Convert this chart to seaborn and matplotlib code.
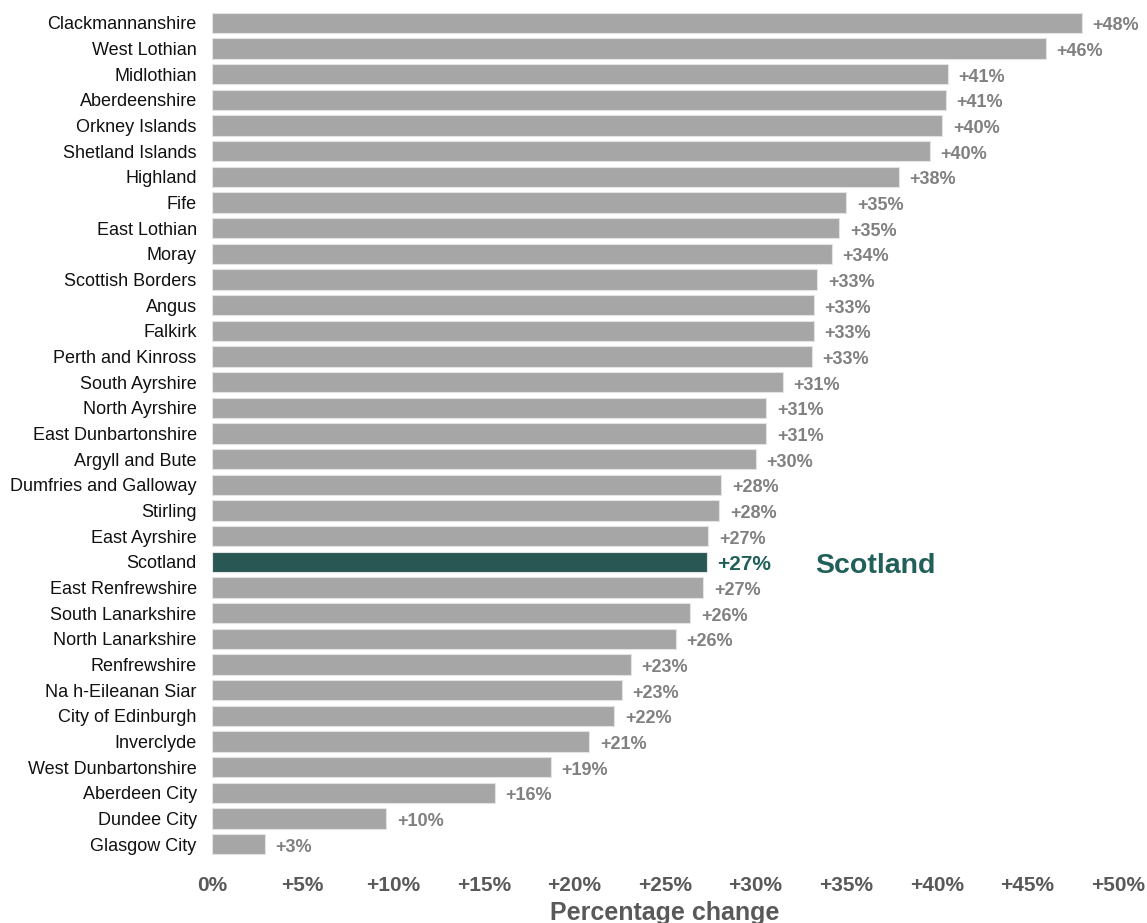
import matplotlib
matplotlib.use("Agg")
import matplotlib.pyplot as plt
import seaborn as sns
import pandas as pd

areas = ["Clackmannanshire", "West Lothian", "Midlothian", "Aberdeenshire", "Orkney Islands",
         "Shetland Islands", "Highland", "Fife", "East Lothian", "Moray", "Scottish Borders",
         "Angus", "Falkirk", "Perth and Kinross", "South Ayrshire", "North Ayrshire",
         "East Dunbartonshire", "Argyll and Bute", "Dumfries and Galloway", "Stirling",
         "East Ayrshire", "Scotland", "East Renfrewshire", "South Lanarkshire",
         "North Lanarkshire", "Renfrewshire", "Na h-Eileanan Siar", "City of Edinburgh",
         "Inverclyde", "West Dunbartonshire", "Aberdeen City", "Dundee City", "Glasgow City"]
change = [48.0, 46.0, 40.6, 40.5, 40.3, 39.6, 37.9, 35.0, 34.6, 34.2, 33.4, 33.2, 33.2, 33.1,
          31.5, 30.6, 30.6, 30.0, 28.1, 28.0, 27.4, 27.3, 27.1, 26.4, 25.6, 23.1, 22.6, 22.2,
          20.8, 18.7, 15.6, 9.6, 2.9]
value_labels = ["+48%", "+46%", "+41%", "+41%", "+40%", "+40%", "+38%", "+35%", "+35%", "+34%",
                "+33%", "+33%", "+33%", "+33%", "+31%", "+31%", "+31%", "+30%", "+28%", "+28%",
                "+27%", "+27%", "+27%", "+26%", "+26%", "+23%", "+23%", "+22%", "+21%", "+19%",
                "+16%", "+10%", "+3%"]
x_ticks = [0, 5, 10, 15, 20, 25, 30, 35, 40, 45, 50]
x_tick_labels = ["0%", "+5%", "+10%", "+15%", "+20%", "+25%", "+30%", "+35%", "+40%", "+45%", "+50%"]

GREY = "#A6A6A6"
TEAL = "#21605A"

df = pd.DataFrame({"area": areas, "change": change})
df["group"] = ["Scotland" if a == "Scotland" else "Council" for a in areas]

sns.set_theme(style="white")
plt.rcParams["font.family"] = ["Liberation Sans", "DejaVu Sans"]

fig = plt.figure(figsize=(11.47, 9.23), dpi=100)
ax = fig.add_axes([212 / 1147, 66 / 923, (1118 - 212) / 1147, (857 - 10) / 923])

sns.barplot(data=df, x="change", y="area", hue="group", orient="h",
            palette={"Council": GREY, "Scotland": TEAL}, dodge=False, legend=False,
            width=0.78, edgecolor="#E3E3E3", linewidth=0.8, ax=ax)

ax.set_xlim(0, 50)
ax.set_ylim(len(areas) - 0.5, -0.5)
ax.set_xticks(x_ticks)
ax.set_xticklabels(x_tick_labels, fontsize=15, fontweight="bold", color="#595959")
ax.tick_params(axis="x", length=0, pad=14)
ax.tick_params(axis="y", length=0, pad=11, labelsize=13, labelcolor="#111111")
for s in ax.spines.values():
    s.set_visible(False)
ax.set_ylabel("")
ax.set_xlabel("Percentage change", fontsize=18, fontweight="bold", color="#595959", labelpad=4)

for i, (v, lab, a) in enumerate(zip(change, value_labels, areas)):
    if a == "Scotland":
        ax.text(v + 0.55, i + 0.1, lab, va="center", ha="left", fontsize=15, fontweight="bold", color=TEAL)
        ax.text(33.3, i + 0.15, "Scotland", va="center", ha="left", fontsize=20.5,
                fontweight="bold", color=TEAL)
    else:
        ax.text(v + 0.6, i + 0.12, lab, va="center", ha="left", fontsize=13, fontweight="bold",
                color="#808080")

fig.savefig("out.png", dpi=100)
